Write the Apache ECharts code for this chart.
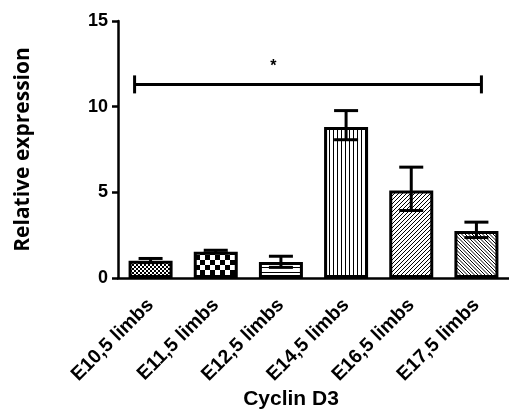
<!DOCTYPE html>
<html><head><meta charset="utf-8">
<script src="https://cdn.jsdelivr.net/npm/echarts@6/dist/echarts.min.js"></script>
<style>html,body{margin:0;padding:0;background:#fff}#c{width:509px;height:411px}</style>
</head><body><div id="c"></div>
<script>
// ---- data ----
const categories = ['E10,5 limbs', 'E11,5 limbs', 'E12,5 limbs', 'E14,5 limbs', 'E16,5 limbs', 'E17,5 limbs'];
const means = [1.0, 1.53, 0.93, 8.81, 5.11, 2.75];
const errLow = [0.9, 1.46, 0.62, 8.07, 3.94, 2.36];
const errHigh = [1.14, 1.62, 1.27, 9.77, 6.47, 3.26];
const yTicks = [0, 5, 10, 15];
const sigLevel = 11.3;
const sigFrom = 0, sigTo = 5;
const sigLabel = '*';
const xTitle = 'Cyclin D3';
const yTitle = 'Relative expression';
const patternKinds = ['fineChecker', 'checker', 'hlines', 'vlines', 'diag', 'diagBack'];

// ---- patterns ----
function makePattern(kind) {
  const c = document.createElement('canvas');
  let ctx;
  if (kind === 'fineChecker') {
    c.width = 4; c.height = 4; ctx = c.getContext('2d');
    ctx.fillStyle = '#fff'; ctx.fillRect(0, 0, 4, 4);
    ctx.fillStyle = '#000'; ctx.fillRect(0, 0, 2, 2); ctx.fillRect(2, 2, 2, 2);
  } else if (kind === 'checker') {
    c.width = 10; c.height = 10; ctx = c.getContext('2d');
    ctx.fillStyle = '#fff'; ctx.fillRect(0, 0, 10, 10);
    ctx.fillStyle = '#000'; ctx.fillRect(0, 0, 5, 5); ctx.fillRect(5, 5, 5, 5);
  } else if (kind === 'hlines') {
    c.width = 4; c.height = 5; ctx = c.getContext('2d');
    ctx.fillStyle = '#fff'; ctx.fillRect(0, 0, 4, 5);
    ctx.fillStyle = '#000'; ctx.fillRect(0, 2, 4, 1);
  } else if (kind === 'vlines') {
    c.width = 4; c.height = 4; ctx = c.getContext('2d');
    ctx.fillStyle = '#fff'; ctx.fillRect(0, 0, 4, 4);
    ctx.fillStyle = '#000'; ctx.fillRect(1, 0, 1, 4);
  } else {
    const s = kind === 'diag' ? 4 : 3.5;
    const n = Math.round(s * 2);
    c.width = n; c.height = n; ctx = c.getContext('2d');
    ctx.fillStyle = '#fff'; ctx.fillRect(0, 0, n, n);
    ctx.strokeStyle = '#000'; ctx.lineWidth = 1;
    ctx.beginPath();
    for (let k = -2; k <= 2; k++) {
      const o = k * n / 2;
      if (kind === 'diag') { ctx.moveTo(o - 1, n + 1); ctx.lineTo(o + n + 1, -1); }
      else { ctx.moveTo(o - 1, -1); ctx.lineTo(o + n + 1, n + 1); }
    }
    ctx.stroke();
  }
  return { image: c, repeat: 'repeat' };
}

const FONT = '"Liberation Sans", Arial, sans-serif';
const chart = echarts.init(document.getElementById('c'));
chart.setOption({
  animation: false,
  backgroundColor: '#fff',
  grid: { left: 118, right: -6, top: 21, bottom: 133 },
  xAxis: {
    type: 'category',
    data: categories,
    axisLine: { lineStyle: { color: '#000', width: 2.5 } },
    axisTick: { alignWithLabel: true, length: 8, lineStyle: { color: '#000', width: 2.5 } },
    axisLabel: { rotate: 45, margin: 24, color: '#000', fontWeight: 'bold', fontSize: 19.5, fontFamily: FONT, interval: 0 }
  },
  yAxis: {
    type: 'value', min: yTicks[0], max: yTicks[yTicks.length - 1], interval: yTicks[1] - yTicks[0],
    splitLine: { show: false },
    axisLine: { show: true, lineStyle: { color: '#000', width: 2.5 } },
    axisTick: { show: true, length: 6, lineStyle: { color: '#000', width: 2.5 } },
    axisLabel: { margin: 10, color: '#000', fontWeight: 'bold', fontSize: 18, fontFamily: FONT },
    name: yTitle, nameLocation: 'middle', nameRotate: 90, nameGap: 84,
    nameTextStyle: { color: '#000', fontWeight: 'bold', fontSize: 21, fontFamily: '"Open Sans", "Noto Sans", sans-serif' }
  },
  graphic: [{
    type: 'text', x: 291, y: 399,
    style: { text: xTitle, align: 'center', verticalAlign: 'middle', fill: '#000', font: 'bold 21px ' + FONT }
  }],
  series: [
    {
      type: 'bar', barWidth: 44,
      data: means.map((v, i) => ({ value: v, itemStyle: { color: makePattern(patternKinds[i]) } })),
      itemStyle: { borderColor: '#000', borderWidth: 3 }
    },
    {
      type: 'custom', clip: false, z: 5,
      data: categories.map((c, i) => [i, errLow[i], errHigh[i]]),
      renderItem: function (params, api) {
        const lo = api.coord([api.value(0), api.value(1)]);
        const hi = api.coord([api.value(0), api.value(2)]);
        const h = 12, st = { stroke: '#000', lineWidth: 3 };
        return { type: 'group', children: [
          { type: 'line', shape: { x1: lo[0], y1: lo[1], x2: hi[0], y2: hi[1] }, style: st },
          { type: 'line', shape: { x1: hi[0] - h, y1: hi[1], x2: hi[0] + h, y2: hi[1] }, style: st },
          { type: 'line', shape: { x1: lo[0] - h, y1: lo[1], x2: lo[0] + h, y2: lo[1] }, style: st }
        ] };
      }
    },
    {
      type: 'custom', clip: false, z: 5,
      data: [[sigFrom, sigLevel, sigTo]],
      renderItem: function (params, api) {
        const p0 = api.coord([api.value(0), api.value(1)]);
        const p1 = api.coord([api.value(2), api.value(1)]);
        const x0 = p0[0] - 16, x1 = p1[0] + 5, y = p0[1];
        const st = { stroke: '#000', lineWidth: 3 };
        return { type: 'group', children: [
          { type: 'line', shape: { x1: x0, y1: y, x2: x1, y2: y }, style: st },
          { type: 'line', shape: { x1: x0, y1: y - 9, x2: x0, y2: y + 9 }, style: st },
          { type: 'line', shape: { x1: x1, y1: y - 9, x2: x1, y2: y + 9 }, style: st },
          { type: 'text', style: { text: sigLabel, x: x0 + (x1 - x0) * 0.4, y: y - 18, align: 'center', verticalAlign: 'middle', fill: '#000', font: 'bold 16px ' + FONT } }
        ] };
      }
    }
  ]
});
</script>
</body></html>
